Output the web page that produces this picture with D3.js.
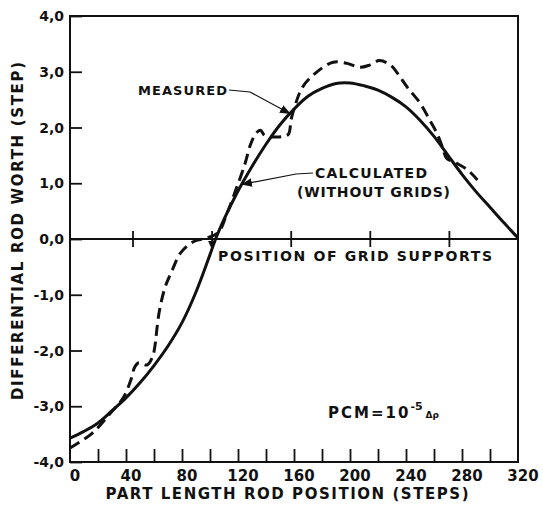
<!DOCTYPE html>
<html>
<head>
<meta charset="utf-8">
<script src="https://cdn.jsdelivr.net/npm/d3@7"></script>
<style>
  body { margin: 0; background: #fff; }
  text { font-family: "DejaVu Sans", sans-serif; font-weight: bold; fill: #111; }
</style>
</head>
<body>
<div class="container"></div>
<script>
// calculated (without grids) - solid
const calcSteps = [0, 10, 20, 30, 40, 50, 60, 70, 80, 90, 100, 104, 110, 120, 130, 140, 150, 160, 170, 180, 190, 200, 210, 220, 230, 240, 250, 260, 270, 280, 290, 300, 310, 320]
const calcWorth = [-3.57, -3.45, -3.30, -3.08, -2.85, -2.58, -2.27, -1.92, -1.50, -0.95, -0.28, 0, 0.35, 0.86, 1.30, 1.70, 2.05, 2.33, 2.56, 2.70, 2.79, 2.80, 2.75, 2.67, 2.54, 2.37, 2.13, 1.84, 1.50, 1.16, 0.85, 0.57, 0.29, 0.02]

// measured - dashed
const measSteps = [0, 16, 29, 38, 44, 46, 49, 55, 59, 61, 62, 64, 68, 73, 79, 88, 98, 106, 112, 118, 125, 129, 133, 136, 139, 145, 152, 156, 158, 160, 166, 176, 188, 198, 207, 214, 221, 229, 234, 241, 250, 257, 262, 266, 269, 276, 284, 291]
const measWorth = [-3.75, -3.48, -3.12, -2.85, -2.49, -2.31, -2.22, -2.26, -2.11, -1.86, -1.63, -1.27, -0.86, -0.56, -0.25, -0.05, 0.02, 0.12, 0.45, 0.85, 1.35, 1.70, 1.90, 1.95, 1.86, 1.83, 1.84, 1.88, 2.15, 2.33, 2.72, 2.99, 3.17, 3.15, 3.08, 3.12, 3.20, 3.12, 2.97, 2.72, 2.44, 2.13, 1.90, 1.65, 1.45, 1.36, 1.24, 1.06]

const gridSupports = [45, 101.5, 158, 214.5, 271]
const xTickLabels = [0, 40, 80, 120, 160, 200, 240, 280, 320]
const xMinorTicks = d3.range(20, 320, 20)
const yTickValues = [4, 3, 2, 1, 0, -1, -2, -3, -4]

const width = 543, height = 505
const x = d3.scaleLinear().domain([0, 320]).range([70, 518])
const y = d3.scaleLinear().domain([-4, 4]).range([462, 16])

const svg = d3.select('.container').append('svg')
  .attr('width', width)
  .attr('height', height)

// frame
svg.append('rect')
  .attr('x', x(0)).attr('y', y(4))
  .attr('width', x(320) - x(0)).attr('height', y(-4) - y(4))
  .attr('fill', 'none').attr('stroke', '#111').attr('stroke-width', 2)

// zero line
svg.append('line')
  .attr('x1', x(0)).attr('x2', x(320))
  .attr('y1', y(0)).attr('y2', y(0))
  .attr('stroke', '#111').attr('stroke-width', 1.8)

// bottom ticks (inside)
const xAxis = svg.append('g')
  .attr('transform', `translate(0,${y(-4)})`)
  .call(d3.axisBottom(x).tickValues(xMinorTicks).tickSize(-13).tickFormat(''))
xAxis.select('.domain').remove()
xAxis.selectAll('line').attr('stroke', '#111').attr('stroke-width', 1.8)

svg.selectAll('.xlab')
  .data(xTickLabels)
  .enter()
  .append('text')
  .attr('class', 'xlab')
  .attr('x', d => x(d) + 5)
  .attr('y', 481)
  .attr('text-anchor', 'middle')
  .attr('font-size', 15)
  .text(d => d)

// left ticks (inside)
const yAxis = svg.append('g')
  .attr('transform', `translate(${x(0)},0)`)
  .call(d3.axisLeft(y).tickValues(yTickValues).tickSize(-12).tickFormat(''))
yAxis.select('.domain').remove()
yAxis.selectAll('line').attr('stroke', '#111').attr('stroke-width', 1.8)

svg.selectAll('.ylab')
  .data(yTickValues)
  .enter()
  .append('text')
  .attr('class', 'ylab')
  .attr('x', 64)
  .attr('y', d => y(d) + 5)
  .attr('text-anchor', 'end')
  .attr('font-size', 14)
  .text(d => d3.format('.1f')(d).replace('.', ',').replace('−', '-'))

// grid support markers on zero line
svg.selectAll('.grid')
  .data(gridSupports)
  .enter()
  .append('line')
  .attr('x1', d => x(d)).attr('x2', d => x(d))
  .attr('y1', y(0) - 8).attr('y2', y(0) + 8)
  .attr('stroke', '#111').attr('stroke-width', 1.8)

svg.append('path')
  .attr('d', `M${x(gridSupports[1]) - 4},${y(0) + 2} L${x(gridSupports[1]) + 4},${y(0) + 2} L${x(gridSupports[1])},${y(0) + 11} Z`)
  .attr('fill', '#111')

// curves
const line = d3.line()
  .x(d => x(d[0]))
  .y(d => y(d[1]))
  .curve(d3.curveCatmullRom.alpha(0.5))

svg.append('path')
  .datum(d3.zip(calcSteps, calcWorth))
  .attr('d', line)
  .attr('fill', 'none')
  .attr('stroke', '#111')
  .attr('stroke-width', 3)

svg.append('path')
  .datum(d3.zip(measSteps, measWorth))
  .attr('d', line)
  .attr('fill', 'none')
  .attr('stroke', '#111')
  .attr('stroke-width', 3)
  .attr('stroke-dasharray', '11,6')

// annotations
svg.append('defs').append('marker')
  .attr('id', 'arrow')
  .attr('viewBox', '0 0 10 10')
  .attr('refX', 9).attr('refY', 5)
  .attr('markerWidth', 9).attr('markerHeight', 9)
  .attr('orient', 'auto')
  .append('path')
  .attr('d', 'M0,1 L10,5 L0,9 Z')
  .attr('fill', '#111')

svg.append('path')
  .attr('d', `M229,90 L250,92 L${x(157)},${y(2.25)}`)
  .attr('fill', 'none').attr('stroke', '#111').attr('stroke-width', 1.2)
  .attr('marker-end', 'url(#arrow)')

svg.append('path')
  .attr('d', `M313,173 L296,174 L${x(123)},${y(0.98)}`)
  .attr('fill', 'none').attr('stroke', '#111').attr('stroke-width', 1.2)
  .attr('marker-end', 'url(#arrow)')

svg.append('text')
  .attr('x', 138).attr('y', 95)
  .attr('font-size', 13).attr('font-weight', 'normal')
  .attr('textLength', 89)
  .text('MEASURED')

svg.append('text')
  .attr('x', 315).attr('y', 178)
  .attr('font-size', 14)
  .attr('textLength', 112)
  .text('CALCULATED')

svg.append('text')
  .attr('x', 297).attr('y', 197)
  .attr('font-size', 14)
  .attr('textLength', 153)
  .text('(WITHOUT GRIDS)')

svg.append('text')
  .attr('x', 218).attr('y', 261)
  .attr('font-size', 14)
  .attr('textLength', 274)
  .text('POSITION OF GRID SUPPORTS')

const pcm = svg.append('text')
  .attr('x', 328).attr('y', 418)
  .attr('font-size', 15)
pcm.append('tspan').attr('letter-spacing', 2).text('PCM=10')
pcm.append('tspan').attr('dy', -8).attr('font-size', 11).text('-5')
pcm.append('tspan').attr('dy', 8).attr('dx', 3).attr('font-size', 9).text('Δρ')

// axis titles
svg.append('text')
  .attr('transform', 'translate(23,231) rotate(-90)')
  .attr('text-anchor', 'middle')
  .attr('font-size', 15)
  .attr('textLength', 338)
  .text('DIFFERENTIAL ROD WORTH (STEP)')

svg.append('text')
  .attr('x', 287).attr('y', 499)
  .attr('text-anchor', 'middle')
  .attr('font-size', 15)
  .attr('textLength', 363)
  .text('PART LENGTH ROD POSITION (STEPS)')
</script>
</body>
</html>
